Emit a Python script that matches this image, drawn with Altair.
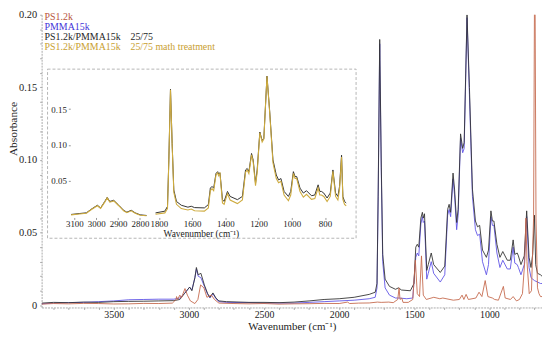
import altair as alt
import pandas as pd

# ---------------- data (wavenumber cm-1, absorbance) ----------------
ps_pairs = [
    [3980, 0.0008], [3900, 0.0012], [3800, 0.001], [3700, 0.0013], [3600, 0.0012],
    [3500, 0.0009], [3400, 0.001], [3300, 0.0013], [3200, 0.0012], [3110, 0.0015],
    [3085, 0.004], [3082, 0.006], [3075, 0.004], [3060, 0.007], [3050, 0.005],
    [3026, 0.0115], [3010, 0.007], [2990, 0.003], [2960, 0.0012], [2940, 0.004],
    [2922, 0.014], [2900, 0.012], [2880, 0.0055], [2850, 0.007], [2830, 0.004],
    [2800, 0.0015], [2700, 0.0012], [2600, 0.001], [2500, 0.0012], [2400, 0.0008],
    [2300, 0.001], [2200, 0.0011], [2100, 0.0013], [2000, 0.0012], [1944, 0.0022],
    [1930, 0.0012], [1870, 0.0015], [1800, 0.0016], [1745, 0.0022], [1720, 0.002],
    [1670, 0.0022], [1640, 0.0018], [1610, 0.004], [1601, 0.012], [1595, 0.004],
    [1583, 0.005], [1575, 0.002], [1540, 0.002], [1510, 0.004], [1493, 0.031],
    [1480, 0.008], [1465, 0.006], [1452, 0.034], [1440, 0.007], [1420, 0.004],
    [1370, 0.0055], [1330, 0.0045], [1310, 0.005], [1240, 0.0035], [1200, 0.004],
    [1182, 0.007], [1170, 0.004], [1155, 0.0075], [1140, 0.004], [1090, 0.005],
    [1069, 0.009], [1050, 0.006], [1028, 0.017], [1010, 0.006], [980, 0.005],
    [965, 0.004], [940, 0.0035], [907, 0.013], [895, 0.005], [860, 0.004],
    [842, 0.006], [820, 0.003], [800, 0.004], [780, 0.008], [765, 0.03],
    [757, 0.06], [750, 0.03], [735, 0.008], [720, 0.01], [706, 0.06],
    [698, 0.26], [690, 0.06], [680, 0.012], [670, 0.008], [660, 0.006], [650, 0.006],
]

pmma_pairs = [
    [3980, 0.001], [3900, 0.0015], [3800, 0.0018], [3700, 0.002], [3600, 0.0025],
    [3500, 0.003], [3400, 0.0038], [3300, 0.004], [3200, 0.0042], [3100, 0.0042],
    [3060, 0.005], [3030, 0.008], [2995, 0.0125], [2980, 0.0105], [2960, 0.019],
    [2950, 0.025], [2938, 0.020], [2920, 0.019], [2897, 0.013], [2875, 0.0075],
    [2860, 0.005], [2840, 0.008], [2820, 0.0045], [2800, 0.0025], [2750, 0.002],
    [2600, 0.0018], [2500, 0.0015], [2400, 0.0015], [2300, 0.0015], [2200, 0.002],
    [2100, 0.0025], [2000, 0.003], [1900, 0.0035], [1800, 0.0045], [1760, 0.0055],
    [1748, 0.012], [1740, 0.075], [1730, 0.18], [1720, 0.095], [1710, 0.030],
    [1694, 0.012], [1665, 0.007], [1625, 0.005], [1600, 0.005], [1550, 0.0045],
    [1510, 0.005], [1490, 0.033], [1480, 0.036], [1470, 0.034], [1456, 0.056],
    [1446, 0.061], [1440, 0.057], [1432, 0.058], [1417, 0.018], [1407, 0.022],
    [1387, 0.030], [1371, 0.022], [1327, 0.016], [1297, 0.021], [1278, 0.062],
    [1268, 0.066], [1258, 0.061], [1242, 0.087], [1232, 0.076], [1218, 0.052],
    [1208, 0.062], [1192, 0.115], [1178, 0.105], [1168, 0.108], [1149, 0.198],
    [1133, 0.145], [1113, 0.075], [1093, 0.052], [1079, 0.048], [1065, 0.049],
    [1046, 0.030], [1020, 0.021], [1006, 0.028], [990, 0.061], [980, 0.055],
    [970, 0.055], [950, 0.036], [930, 0.026], [911, 0.031], [881, 0.025],
    [861, 0.025], [842, 0.040], [831, 0.029], [815, 0.028], [807, 0.026],
    [790, 0.021], [768, 0.028], [752, 0.061], [736, 0.026], [723, 0.019],
    [712, 0.018], [700, 0.017], [680, 0.016], [660, 0.015], [650, 0.015],
]

blend_pairs = [
    [3980, 0.0015], [3900, 0.002], [3800, 0.0018], [3700, 0.0022], [3600, 0.002],
    [3500, 0.0025], [3400, 0.0027], [3300, 0.0028], [3200, 0.003], [3100, 0.0032],
    [3060, 0.004], [3030, 0.008], [2995, 0.0125], [2980, 0.010], [2960, 0.019],
    [2950, 0.026], [2938, 0.021], [2920, 0.022], [2897, 0.014], [2875, 0.008],
    [2860, 0.0055], [2840, 0.0085], [2820, 0.005], [2800, 0.003], [2750, 0.0025],
    [2600, 0.002], [2500, 0.002], [2400, 0.0018], [2300, 0.0022], [2200, 0.003],
    [2100, 0.004], [2000, 0.0045], [1900, 0.0055], [1800, 0.0075], [1760, 0.009],
    [1748, 0.015], [1740, 0.08], [1730, 0.183], [1720, 0.10], [1710, 0.035],
    [1694, 0.018], [1665, 0.013], [1625, 0.011], [1605, 0.012], [1585, 0.0105],
    [1526, 0.010], [1502, 0.015], [1490, 0.040], [1480, 0.042], [1470, 0.040],
    [1456, 0.060], [1446, 0.064], [1440, 0.060], [1432, 0.063], [1417, 0.024],
    [1407, 0.028], [1387, 0.036], [1371, 0.028], [1327, 0.0226], [1297, 0.027],
    [1278, 0.066], [1268, 0.0695], [1258, 0.064], [1242, 0.091], [1232, 0.080],
    [1218, 0.057], [1208, 0.066], [1192, 0.118], [1178, 0.108], [1168, 0.112],
    [1149, 0.200], [1133, 0.15], [1113, 0.08], [1093, 0.058], [1079, 0.054],
    [1065, 0.055], [1046, 0.038], [1020, 0.033], [1006, 0.038], [990, 0.065],
    [980, 0.058], [970, 0.058], [950, 0.042], [930, 0.033], [911, 0.037],
    [881, 0.031], [861, 0.031], [842, 0.045], [831, 0.035], [815, 0.036],
    [807, 0.034], [790, 0.028], [768, 0.034], [752, 0.065], [736, 0.033],
    [723, 0.026], [712, 0.035], [700, 0.062], [692, 0.028], [680, 0.022],
    [660, 0.021], [650, 0.02],
]

# inset, fingerprint panel: wavenumber, blend, math treatment
inset_hi_wn = [1820, 1764, 1748, 1740, 1730, 1720, 1710, 1694, 1665, 1625, 1605, 1585,
               1526, 1502, 1490, 1480, 1470, 1456, 1446, 1440, 1432, 1417, 1407, 1387,
               1371, 1327, 1297, 1278, 1268, 1258, 1242, 1232, 1218, 1208, 1192, 1178,
               1168, 1149, 1133, 1113, 1093, 1079, 1065, 1046, 1020, 1006, 990, 980,
               970, 950, 930, 911, 881, 861, 841, 831, 821, 807, 787, 768,
               752, 736, 722, 712, 700, 692, 682, 672]
inset_hi_blend = [0.005, 0.0074, 0.014, 0.079, 0.178, 0.102, 0.037, 0.021, 0.0157, 0.013, 0.0143, 0.0124,
                  0.012, 0.0166, 0.0396, 0.042, 0.0396, 0.060, 0.0626, 0.0594, 0.061, 0.0235, 0.021, 0.035,
                  0.028, 0.0235, 0.028, 0.065, 0.067, 0.0626, 0.088, 0.0787, 0.0465, 0.065, 0.118, 0.106,
                  0.109, 0.196, 0.148, 0.079, 0.058, 0.051, 0.053, 0.035, 0.028, 0.035, 0.0626, 0.0557,
                  0.0557, 0.0396, 0.0327, 0.036, 0.029, 0.030, 0.0442, 0.035, 0.035, 0.0327, 0.0258, 0.0327,
                  0.065, 0.0327, 0.028, 0.042, 0.0856, 0.028, 0.021, 0.0189]
inset_hi_math = [0.003, 0.005, 0.011, 0.077, 0.177, 0.100, 0.034, 0.017, 0.011, 0.009, 0.0105, 0.008,
                 0.0075, 0.012, 0.036, 0.039, 0.036, 0.058, 0.061, 0.057, 0.060, 0.019, 0.017, 0.032,
                 0.023, 0.018, 0.023, 0.062, 0.065, 0.060, 0.086, 0.076, 0.043, 0.062, 0.117, 0.104,
                 0.108, 0.196, 0.146, 0.075, 0.053, 0.047, 0.049, 0.030, 0.022, 0.030, 0.060, 0.053,
                 0.053, 0.035, 0.027, 0.031, 0.024, 0.025, 0.040, 0.030, 0.030, 0.028, 0.021, 0.028,
                 0.063, 0.028, 0.023, 0.038, 0.083, 0.024, 0.017, 0.015]

# inset, C-H stretching panel
inset_lo_wn = [3115, 3078, 3045, 3025, 2995, 2980, 2961, 2950, 2938, 2920, 2897, 2875,
               2860, 2840, 2822, 2799, 2770]
inset_lo_blend = [0.0028, 0.0041, 0.0051, 0.0097, 0.0157, 0.012, 0.021, 0.0267, 0.021, 0.0226, 0.0157, 0.0087,
                  0.006, 0.0087, 0.0051, 0.0023, 0.0014]
inset_lo_math = [0.0022, 0.0035, 0.0045, 0.009, 0.015, 0.0113, 0.020, 0.026, 0.020, 0.0218, 0.015, 0.008,
                 0.0053, 0.008, 0.0045, 0.0018, 0.001]

legend_labels = ["PS1.2k", "PMMA15k",
                 "PS1.2k/PMMA15k\u00a0\u00a0\u00a0\u00a025/75",
                 "PS1.2k/PMMA15k\u00a0\u00a0\u00a0\u00a025/75 math treatment"]
legend_colors = ["#b8543c", "#3f33d8", "#1e1e1e", "#c9a030"]

C_PS = "#c56a4e"
C_PMMA = "#6055e6"
C_BLEND = "#333333"
C_MATH = "#ceab3e"
FONT = "Liberation Serif"

def pairs_df(pairs):
    return pd.DataFrame(pairs, columns=["wn", "ab"])

# ---------------- main spectrum ----------------
x_main = alt.Scale(domain=[650, 3980], reverse=True, nice=False, zero=False)
y_main = alt.Scale(domain=[-0.0015, 0.2], nice=False, zero=False)

x_axis_main = alt.Axis(
    orient="bottom", values=list(range(700, 4000, 100)),
    labelExpr="datum.value % 500 == 0 ? format(datum.value, 'd') : ''",
    title="Wavenumber (cm\u207b\u00b9)", titleY=13, titleFontSize=11,
    tickSize=2, tickColor="#aaaaaa", domainColor="#aaaaaa", domainDash=[2, 1],
    labelFontSize=10, labelPadding=0, labelFlush=False, labelOverlap=False,
)
y_axis_main = alt.Axis(
    orient="left", values=[round(i * 0.01, 2) for i in range(21)],
    labelExpr="datum.value == 0 ? '0' : (abs(datum.value*20 - round(datum.value*20)) < 0.001 ? format(datum.value, '.2f') : '')",
    title="Absorbance", titleX=-28, titleY=115, titleFontSize=11.5, titleBaseline="middle", titleAlign="center",
    tickSize=2, tickColor="#aaaaaa", domainColor="#aaaaaa", domainDash=[2, 1],
    labelFontSize=10.5, labelPadding=3, labelFlush=False, labelOverlap=False,
)

def main_line(pairs, color):
    return alt.Chart(pairs_df(pairs)).mark_line(color=color, strokeWidth=0.9, clip=True).encode(
        x=alt.X("wn:Q", scale=x_main, axis=x_axis_main),
        y=alt.Y("ab:Q", scale=y_main, axis=y_axis_main),
        order="idx:Q",
    ).transform_window(idx="row_number()")

main = alt.layer(main_line(pmma_pairs, C_PMMA), main_line(blend_pairs, C_BLEND), main_line(ps_pairs, C_PS))

# ---------------- inset frame ----------------
frame = alt.Chart(pd.DataFrame({"k": [0]})).mark_rect(
    fill="white", stroke="#b5b5b5", strokeDash=[3, 2], strokeWidth=1
).encode(x=alt.value(6), x2=alt.value(318), y=alt.value(55), y2=alt.value(226))

# ---------------- inset panels ----------------
y_inset = alt.Scale(domain=[0, 0.2], range=[204, 59.2], nice=False, zero=False)
x_lo = alt.Scale(domain=[2770, 3115], range=[106.1, 29.8], nice=False, zero=False)
x_hi = alt.Scale(domain=[672, 1820], range=[308, 115.2], nice=False, zero=False)

def inset_df(wn, blend, math):
    return pd.DataFrame({"wn": wn, "blend": blend, "math": math})

lo_df = inset_df(inset_lo_wn, inset_lo_blend, inset_lo_math)
hi_df = inset_df(inset_hi_wn, inset_hi_blend, inset_hi_math)

x_axis_lo = alt.Axis(orient="bottom", offset=-91, values=[3100, 3000, 2900, 2800], format="d",
                     title=None, domain=False, tickSize=2, tickColor="#999999", zindex=2,
                     labelFontSize=9, labelPadding=0, labelFlush=False)
x_axis_hi = alt.Axis(orient="bottom", offset=-91, values=[1800, 1600, 1400, 1200, 1000, 800], format="d",
                     title="Wavenumber (cm\u207b\u00b9)", titleX=161, titleY=11, titleFontSize=9.5,
                     domain=False, tickSize=2, tickColor="#999999", zindex=2,
                     labelFontSize=9, labelPadding=0, labelFlush=False)
y_axis_in = alt.Axis(orient="left", offset=-29, values=[0.05, 0.10, 0.15], format=".2f",
                     title=None, domain=False, tickSize=2, tickColor="#999999", zindex=2,
                     labelFontSize=9, labelPadding=2, labelFlush=False)

def inset_panel(df, xs, xaxis, yaxis):
    blend = alt.Chart(df).mark_line(color=C_BLEND, strokeWidth=1).encode(
        x=alt.X("wn:Q", scale=xs, axis=xaxis),
        y=alt.Y("blend:Q", scale=y_inset, axis=yaxis),
    )
    math = alt.Chart(df).mark_line(color=C_MATH, strokeWidth=1.1).encode(
        x=alt.X("wn:Q", scale=xs, axis=xaxis),
        y=alt.Y("math:Q", scale=y_inset, axis=yaxis),
    )
    return alt.layer(blend, math)

inset_lo = inset_panel(lo_df, x_lo, x_axis_lo, y_axis_in)
inset_hi = inset_panel(hi_df, x_hi, x_axis_hi, None)

# ---------------- legend ----------------
leg_df = pd.DataFrame({"label": legend_labels, "row": [0, 1, 2, 3]})
legend = alt.Chart(leg_df).mark_text(align="left", baseline="middle", font=FONT, fontSize=10).encode(
    x=alt.value(3),
    y=alt.Y("row:Q", scale=alt.Scale(domain=[0, 3], range=[2, 33], nice=False, zero=False), axis=None),
    text="label:N",
    color=alt.Color("label:N", scale=alt.Scale(domain=legend_labels, range=legend_colors), legend=None),
)

chart = alt.layer(main, frame, inset_lo, inset_hi, legend).resolve_scale(
    x="independent", y="independent", color="independent"
).properties(
    width=506, height=296,
    autosize=alt.AutoSizeParams(type="none"),
    padding={"left": 34, "top": 5, "right": 0, "bottom": 24},
).configure_view(strokeWidth=0).configure_axis(
    grid=False, labelFont=FONT, titleFont=FONT, titleFontWeight="normal",
    labelColor="#222222", titleColor="#222222",
)

chart.save("out.html", embed_options={"renderer": "svg", "actions": False})
